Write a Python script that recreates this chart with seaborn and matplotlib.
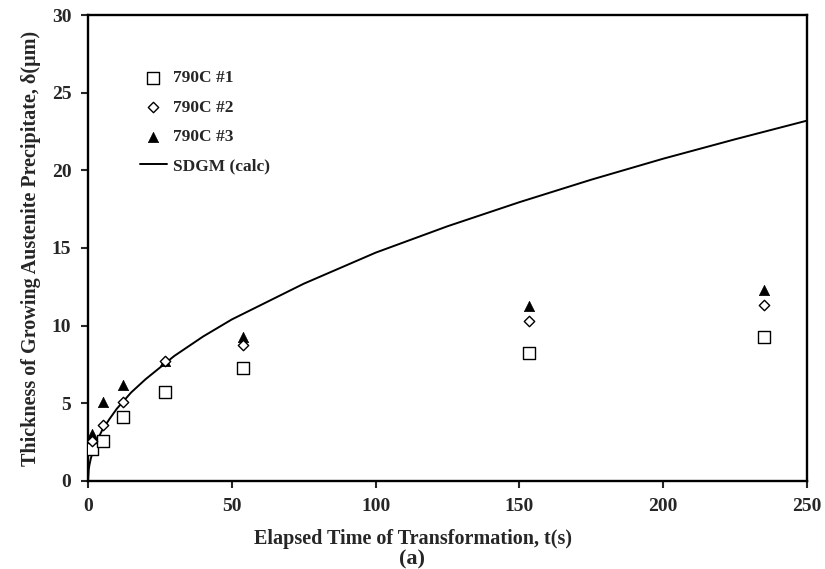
import numpy as np
import pandas as pd
import matplotlib
matplotlib.use('Agg')
import matplotlib.pyplot as plt
import seaborn as sns

# measured points (time in s, thickness in um)
t_exp = [1.5, 5.3, 12.0, 26.8, 53.8, 153.4, 235.0]
d_790c_1 = [2.05, 2.6, 4.15, 5.7, 7.25, 8.25, 9.25]
d_790c_2 = [2.55, 3.6, 5.1, 7.7, 8.75, 10.3, 11.3]
d_790c_3 = [3.05, 5.1, 6.15, 7.7, 9.25, 11.25, 12.3]

# SDGM calculated curve
t_calc = [0, 0.25, 0.5, 1, 2, 3, 5, 7.5, 10, 15, 20, 30, 40, 50, 75, 100,
          125, 150, 175, 200, 225, 250]
d_calc = [0, 0.75, 1.05, 1.47, 2.08, 2.55, 3.3, 4.0, 4.65, 5.7, 6.55, 8.05,
          9.3, 10.4, 12.7, 14.7, 16.4, 17.95, 19.4, 20.75, 22.0, 23.2]

sns.set_style('ticks')
plt.rcParams['font.family'] = ['Liberation Serif', 'DejaVu Serif']
plt.rcParams['font.weight'] = 'bold'

fig = plt.figure(figsize=(8.25, 5.69), dpi=100)
ax = fig.add_axes([0.1067, 0.1547, 0.8715, 0.8189])

exp = pd.DataFrame({'t': t_exp, 'd1': d_790c_1, 'd2': d_790c_2, 'd3': d_790c_3})
calc = pd.DataFrame({'t': t_calc, 'd': d_calc})

sns.scatterplot(data=exp, x='t', y='d1', marker='s', s=70, facecolor='white',
                edgecolor='black', linewidth=1.0, label='790C #1', ax=ax, zorder=3)
sns.scatterplot(data=exp, x='t', y='d2', marker='D', s=28, facecolor='white',
                edgecolor='black', linewidth=1.0, label='790C #2', ax=ax, zorder=4)
sns.scatterplot(data=exp, x='t', y='d3', marker='^', s=55, color='black',
                edgecolor='black', linewidth=0.5, label='790C #3', ax=ax, zorder=2)
sns.lineplot(data=calc, x='t', y='d', color='black', linewidth=1.4,
             label='SDGM (calc)', ax=ax, zorder=1)

ax.set_xlim(0, 250)
ax.set_ylim(0, 30)
ax.set_xticks(range(0, 251, 50))
ax.set_yticks(range(0, 31, 5))
for s in ax.spines.values():
    s.set_linewidth(1.7)
    s.set_color('black')
ax.tick_params(direction='out', length=5, width=1.5, labelsize=14, pad=7)
for lab in ax.get_xticklabels() + ax.get_yticklabels():
    lab.set_fontweight('bold')

ax.set_xlabel('')
ax.set_ylabel('Thickness of Growing Austenite Precipitate, δ(μm)',
              fontsize=14.5, fontweight='bold', labelpad=8)
fig.text(0.5, 0.052, 'Elapsed Time of Transformation, t(s)', ha='center',
         va='center', fontsize=14.5, fontweight='bold')
fig.text(0.5, 0.016, '(a)', ha='center', va='center', fontsize=16,
         fontweight='bold')

leg = ax.legend(loc='upper left', bbox_to_anchor=(0.05, 0.915), frameon=False,
                prop={'weight': 'bold', 'size': 12.5}, handlelength=1.6,
                labelspacing=0.76, handletextpad=0.35)

plt.savefig('out.png', dpi=100)
